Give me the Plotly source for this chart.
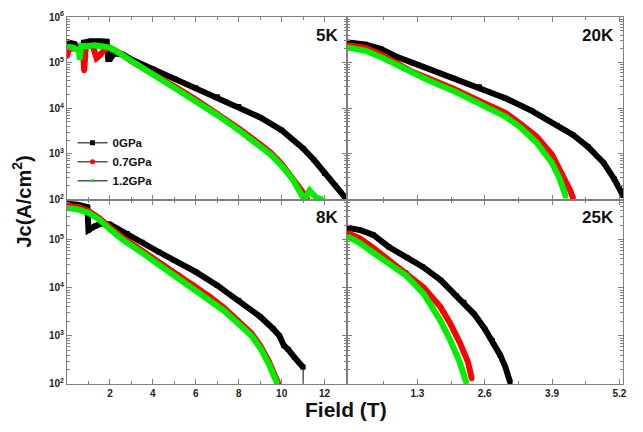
import plotly.graph_objects as go

# ---- data (field in T, log10 of Jc in A/cm^2) ----
# 5 K
field_5k_0 = [0, 0.35, 0.6, 0.72, 0.78, 1.1, 1.5, 1.85, 1.92, 2.0, 2.2, 2.6, 3, 4, 5, 6, 7, 8, 9, 10, 11, 11.5, 12, 12.5, 13.0]
logjc_5k_0 = [5.45, 5.41, 5.28, 5.12, 5.44, 5.47, 5.47, 5.46, 5.08, 5.08, 5.20, 5.18, 5.07, 4.86, 4.65, 4.45, 4.25, 4.04, 3.80, 3.52, 3.12, 2.87, 2.57, 2.30, 2.02]
field_5k_07 = [0, 0.1, 0.5, 0.75, 0.8, 0.88, 1.2, 1.38, 1.5, 1.75, 2.0, 2.5, 3, 4, 5, 6, 7, 8, 9, 9.5, 10, 10.5, 11.0, 11.2]
logjc_5k_07 = [5.14, 5.32, 5.30, 5.25, 4.82, 5.37, 5.37, 5.10, 5.15, 5.28, 5.33, 5.20, 5.03, 4.77, 4.48, 4.19, 3.89, 3.56, 3.21, 3.02, 2.78, 2.48, 2.15, 2.0]
field_5k_12 = [0, 0.3, 0.55, 0.6, 0.66, 0.9, 1.3, 1.7, 2.0, 2.5, 3.1, 4, 5, 6, 7, 8, 9, 9.5, 10, 10.5, 11.05, 11.3, 11.6, 11.9]
logjc_5k_12 = [5.35, 5.33, 5.25, 5.08, 5.37, 5.36, 5.38, 5.37, 5.33, 5.19, 5.0, 4.74, 4.45, 4.16, 3.85, 3.52, 3.17, 2.98, 2.74, 2.45, 2.0, 2.2, 2.05, 2.0]

# 20 K
field_20k_0 = [-0.05, 0.3, 0.6, 0.9, 1.2, 1.5, 2.0, 2.5, 3.0, 3.5, 4.0, 4.3, 4.6, 4.9, 5.1, 5.27]
logjc_20k_0 = [5.44, 5.40, 5.30, 5.13, 5.0, 4.87, 4.66, 4.47, 4.22, 3.95, 3.62, 3.42, 3.15, 2.80, 2.45, 2.09]
field_20k_07 = [-0.05, 0.3, 0.6, 0.9, 1.2, 1.5, 2.0, 2.5, 3.0, 3.3, 3.6, 3.9, 4.1, 4.25, 4.31]
logjc_20k_07 = [5.38, 5.32, 5.18, 5.0, 4.80, 4.66, 4.43, 4.16, 3.90, 3.65, 3.38, 2.98, 2.55, 2.2, 2.02]
field_20k_12 = [-0.05, 0.3, 0.6, 0.9, 1.2, 1.5, 2.0, 2.5, 3.0, 3.3, 3.6, 3.9, 4.05, 4.17]
logjc_20k_12 = [5.33, 5.26, 5.12, 4.95, 4.76, 4.62, 4.38, 4.10, 3.82, 3.57, 3.25, 2.80, 2.45, 2.05]

# 8 K
field_8k_0 = [0, 0.5, 0.95, 1.0, 1.3, 1.6, 2.0, 2.8, 3.5, 4.3, 5, 6, 7, 8, 9, 9.6, 9.9, 10.1, 10.3, 10.6, 11.0]
logjc_8k_0 = [5.75, 5.73, 5.68, 5.20, 5.28, 5.34, 5.32, 5.13, 4.95, 4.74, 4.57, 4.33, 4.05, 3.74, 3.40, 3.15, 3.0, 2.80, 2.72, 2.55, 2.35]
field_8k_07 = [0, 0.5, 1.0, 1.5, 2.0, 2.6, 3.5, 4.5, 5.2, 5.9, 6.6, 7.3, 8.0, 8.6, 9.0, 9.4, 9.85]
logjc_8k_07 = [5.71, 5.68, 5.60, 5.45, 5.26, 5.04, 4.77, 4.47, 4.27, 4.06, 3.83, 3.59, 3.31, 3.05, 2.80, 2.47, 2.0]
field_8k_12 = [0, 0.5, 1.0, 1.5, 2.0, 2.6, 3.5, 4.5, 5.2, 5.9, 6.6, 7.3, 8.0, 8.6, 9.0, 9.4, 9.8]
logjc_8k_12 = [5.66, 5.63, 5.56, 5.42, 5.22, 5.0, 4.73, 4.42, 4.21, 4.0, 3.77, 3.53, 3.25, 3.0, 2.75, 2.42, 2.0]

# 25 K
field_25k_0 = [-0.05, 0.2, 0.45, 0.75, 1.1, 1.4, 1.75, 2.05, 2.2, 2.4, 2.6, 2.75, 2.9, 3.0, 3.09]
logjc_25k_0 = [5.25, 5.20, 5.10, 4.85, 4.63, 4.44, 4.16, 3.84, 3.70, 3.45, 3.15, 2.90, 2.60, 2.35, 2.04]
field_25k_07 = [-0.05, 0.19, 0.45, 0.77, 1.09, 1.42, 1.74, 1.93, 2.12, 2.28, 2.35]
logjc_25k_07 = [5.14, 5.03, 4.83, 4.56, 4.32, 4.01, 3.61, 3.27, 2.86, 2.45, 2.11]
field_25k_12 = [-0.05, 0.19, 0.45, 0.77, 1.09, 1.42, 1.74, 1.93, 2.12, 2.22, 2.25]
logjc_25k_12 = [5.07, 4.93, 4.73, 4.49, 4.25, 3.88, 3.33, 2.92, 2.45, 2.11, 2.02]

pressures = ["0GPa", "0.7GPa", "1.2GPa"]
colors = ["#000000", "#ff0000", "#00ee00"]
symbols = ["square", "circle", "triangle-up"]

panels = [
    ("x", "y", "5K", [(field_5k_0, logjc_5k_0), (field_5k_07, logjc_5k_07), (field_5k_12, logjc_5k_12)]),
    ("x2", "y2", "20K", [(field_20k_0, logjc_20k_0), (field_20k_07, logjc_20k_07), (field_20k_12, logjc_20k_12)]),
    ("x3", "y3", "8K", [(field_8k_0, logjc_8k_0), (field_8k_07, logjc_8k_07), (field_8k_12, logjc_8k_12)]),
    ("x4", "y4", "25K", [(field_25k_0, logjc_25k_0), (field_25k_07, logjc_25k_07), (field_25k_12, logjc_25k_12)]),
]

fig = go.Figure()
for xa, ya, label, series in panels:
    for i, (f, lj) in enumerate(series):
        fig.add_trace(go.Scatter(
            x=f, y=[10 ** v for v in lj], xaxis=xa, yaxis=ya,
            mode="lines+markers", showlegend=False,
            line=dict(color=colors[i], width=6),
            marker=dict(color=colors[i], symbol=symbols[i], size=5),
        ))

# thin vertical drop at the end of the 8 K, 0 GPa curve
fig.add_trace(go.Scatter(x=[field_8k_0[-1], field_8k_0[-1]], y=[10 ** logjc_8k_0[-1], 100],
                         xaxis="x3", yaxis="y3", mode="lines", showlegend=False,
                         line=dict(color="#000000", width=1)))

# legend entries
for i, name in enumerate(pressures):
    fig.add_trace(go.Scatter(x=[None], y=[None], xaxis="x", yaxis="y", name="<b>" + name + "</b>",
                             mode="lines+markers",
                             line=dict(color="#555555", width=1.5),
                             marker=dict(color=colors[i], symbol=symbols[i], size=5)))

AX = "#808080"
FONT = "Arial, Liberation Sans, sans-serif"
L = [0, 0.5027]
R = [0.5027, 1]
B = [0, 0.5027]
T = [0.5027, 1]

ylog_vals = [1e2, 1e3, 1e4, 1e5, 1e6]
ylog_text = ["<b>10<sup>%d</sup></b>" % k for k in range(2, 7)]
minor_log = [m * 10 ** e for e in range(2, 6) for m in range(2, 10)]

def yaxis(domain, anchor, rng, labels):
    return dict(domain=domain, anchor=anchor, type="log", range=rng,
                showline=True, linecolor=AX, linewidth=1, mirror="ticks",
                ticks="inside", ticklen=5, tickcolor=AX,
                tickvals=ylog_vals, ticktext=ylog_text, showticklabels=labels,
                tickfont=dict(size=10, family=FONT, color="#222222"),
                minor=dict(ticks="inside", ticklen=3, tickcolor=AX, tickvals=minor_log),
                showgrid=False, zeroline=False)

left_major = [2, 4, 6, 8, 10, 12]
left_minor = [1, 3, 5, 7, 9, 11, 13]
right_major = [1.3, 2.6, 3.9, 5.2]
right_minor = [0.65, 1.95, 3.25, 4.55]

def xaxis(domain, anchor, rng, major, minor, labels):
    return dict(domain=domain, anchor=anchor, range=rng,
                showline=True, linecolor=AX, linewidth=1, mirror="ticks",
                ticks="inside", ticklen=5, tickcolor=AX,
                tickvals=major, ticktext=["<b>%g</b>" % v for v in major], showticklabels=labels,
                tickfont=dict(size=10, family=FONT, color="#222222"),
                minor=dict(ticks="inside", ticklen=3, tickcolor=AX, tickvals=minor),
                showgrid=False, zeroline=False)

fig.update_layout(
    width=643, height=432,
    margin=dict(l=67, r=20, t=10, b=48),
    paper_bgcolor="white", plot_bgcolor="white",
    font=dict(family=FONT, color="#111111"),
    xaxis=xaxis(L, "y", [0, 13.02], left_major, left_minor, False),
    xaxis2=xaxis(R, "y2", [-0.068, 5.27], right_major, right_minor, False),
    xaxis3=xaxis(L, "y3", [0, 13.02], left_major, left_minor, True),
    xaxis4=xaxis(R, "y4", [-0.068, 5.27], right_major, right_minor, True),
    yaxis=yaxis(T, "x", [2, 6], True),
    yaxis2=yaxis(T, "x2", [2, 6], False),
    yaxis3=yaxis(B, "x3", [2, 5.837], True),
    yaxis4=yaxis(B, "x4", [2, 5.837], False),
    legend=dict(x=0.01, y=0.697, xanchor="left", yanchor="top",
                bgcolor="rgba(0,0,0,0)", font=dict(size=11.5, family=FONT, color="#111111"),
                itemwidth=30, tracegroupgap=0),
    showlegend=True,
)

annotations = []
for xa, ya, label, _ in panels:
    annotations.append(dict(text="<b>%s</b>" % label, xref=xa + " domain", yref=ya + " domain",
                            x=0.975, y=0.9, xanchor="right", yanchor="middle", showarrow=False,
                            font=dict(size=17, family=FONT, color="#111111")))
annotations.append(dict(text="<b>Field (T)</b>", xref="paper", yref="paper", x=0.502, y=-0.07,
                        xanchor="center", yanchor="middle", showarrow=False,
                        font=dict(size=21, family=FONT, color="#111111")))
annotations.append(dict(text="<b>Jc(A/cm<sup>2</sup>)</b>", xref="paper", yref="paper", x=-0.081, y=0.497,
                        xanchor="center", yanchor="middle", showarrow=False, textangle=-90,
                        font=dict(size=20, family=FONT, color="#111111")))
fig.update_layout(annotations=annotations)

fig.write_html("out.html")
